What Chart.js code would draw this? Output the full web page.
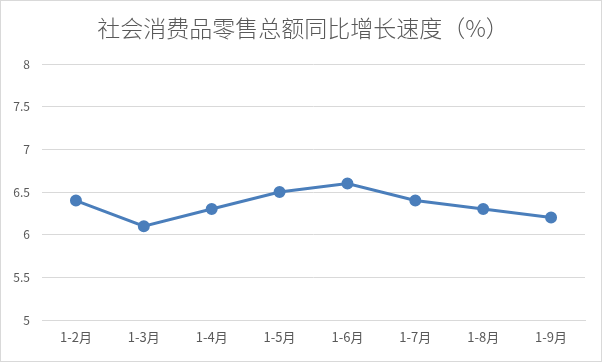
<!DOCTYPE html>
<html>
<head>
<meta charset="utf-8">
<script src="https://cdn.jsdelivr.net/npm/chart.js@4/dist/chart.umd.min.js"></script>
<style>
  html, body { margin: 0; padding: 0; background: #fff; }
  #wrap { width: 602px; height: 362px; position: relative; }
</style>
</head>
<body>
<div id="wrap"><canvas id="lineChart" width="602" height="362"></canvas></div>
<script>
const title = '社会消费品零售总额同比增长速度（%）';
const months = ['1-2月', '1-3月', '1-4月', '1-5月', '1-6月', '1-7月', '1-8月', '1-9月'];
const growth = [6.4, 6.1, 6.3, 6.5, 6.6, 6.4, 6.3, 6.2];
const yMin = 5, yMax = 8, yStep = 0.5;

const fontFamily = '"Noto Sans CJK SC", "Noto Sans", sans-serif';
const textColor = '#595959';
const gridColor = '#d9d9d9';
const lineColor = '#4a7ebb';

// titre + cadre dessinés à la main
const decor = {
    id: 'decor',
    afterDraw(chart) {
        const ctx = chart.ctx;
        ctx.save();
        ctx.strokeStyle = gridColor;
        ctx.lineWidth = 1;
        ctx.strokeRect(0.5, 0.5, chart.width - 1, chart.height - 1);
        ctx.fillStyle = textColor;
        ctx.font = '300 23px ' + fontFamily;
        ctx.textAlign = 'center';
        ctx.textBaseline = 'middle';
        ctx.fillText(title, 303, 28);
        ctx.restore();
    }
};

new Chart(document.getElementById('lineChart').getContext('2d'), {
    type: 'line',
    data: {
        labels: months,
        datasets: [{
            data: growth,
            borderColor: lineColor,
            backgroundColor: lineColor,
            borderWidth: 3,
            pointRadius: 4.5,
            pointHoverRadius: 4.5,
            tension: 0
        }]
    },
    options: {
        responsive: false,
        animation: false,
        layout: { padding: { top: 64, right: 17, bottom: 0, left: 0 } },
        plugins: {
            legend: { display: false },
            title: { display: false },
            tooltip: { enabled: false }
        },
        scales: {
            x: {
                offset: true,
                grid: { display: false, drawTicks: false },
                border: { display: true, color: gridColor },
                ticks: {
                    color: textColor,
                    font: { family: fontFamily, size: 13 },
                    padding: 9,
                    maxRotation: 0
                },
                afterFit(s) { s.height = 42; }
            },
            y: {
                min: yMin,
                max: yMax,
                grid: { color: gridColor, drawTicks: false },
                border: { display: false },
                ticks: {
                    stepSize: yStep,
                    color: textColor,
                    font: { family: fontFamily, size: 12 },
                    padding: 12,
                    callback: v => String(v)
                },
                afterFit(s) { s.width = 42; }
            }
        }
    },
    plugins: [decor]
});
</script>
</body>
</html>
